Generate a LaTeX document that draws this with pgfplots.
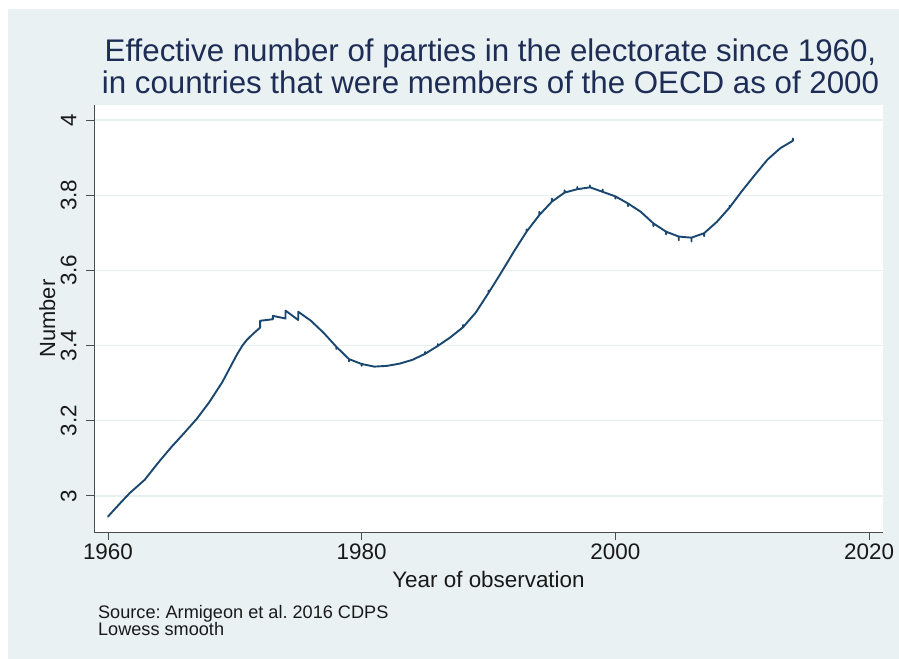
\documentclass[border=0pt]{standalone}
\usepackage{fontspec}
\setmainfont{Liberation Sans}
\usepackage{pgfplots}
\pgfplotsset{compat=1.18}
\definecolor{bgblue}{RGB}{233,241,243}
\definecolor{gridc}{RGB}{231,239,241}
\definecolor{navyline}{RGB}{26,71,111}
\definecolor{titlec}{RGB}{30,45,85}
\frenchspacing
\begin{document}
\begin{tikzpicture}
\fill[white] (0bp,0bp) rectangle (899bp,-659bp);
\fill[bgblue] (8bp,-9bp) rectangle (899bp,-659bp);
\useasboundingbox (0bp,0bp) rectangle (899bp,-659bp);
\begin{axis}[
  scale only axis,
  width=789bp, height=427bp,
  at={(94bp,-532bp)}, anchor=south west,
  xmin=1958.9, xmax=2021.1,
  ymin=2.904, ymax=4.04,
  axis background/.style={fill=white},
  axis x line*=bottom, axis y line*=left,
  axis line style={black!70, line width=0.9bp},
  xtick={1960,1980,2000,2020},
  ytick={3,3.2,3.4,3.6,3.8,4},
  yticklabels={3,3.2,3.4,3.6,3.8,4},
  xticklabels={1960,1980,2000,2020},
  tick align=outside,
  major tick length=8bp,
  tick style={black!70, line width=0.9bp},
  ymajorgrids,
  grid style={gridc, line width=1.3bp},
  ticklabel style={font=\fontsize{22.5}{22.5}\selectfont, text=black!90},
  yticklabel style={rotate=90, anchor=south},
  yticklabel shift=6bp,
  xticklabel style={anchor=north},
  xlabel={Year of observation},
  xlabel style={at={(axis description cs:0.5,-0.1311)}, anchor=base, font=\fontsize{22.5}{22.5}\selectfont, text=black!90},
  ylabel={Number},
  ylabel style={at={(axis description cs:-0.0494,0.5)}, anchor=base, font=\fontsize{22}{22}\selectfont, text=black!90},
  title={Effective number of parties in the electorate since 1960,\\in countries that were members of the OECD as of 2000},
  title style={at={(axis description cs:0.5,1.0)}, anchor=south, align=center, font=\fontsize{31.4}{32}\selectfont, text=titlec, yshift=2bp, xshift=2bp},
  clip=false,
]
\addplot[navyline, line width=1.9bp, line join=round, line cap=round] coordinates {
(1960.0,2.945)
(1961.0,2.982)
(1961.7,3.007)
(1962.9,3.043)
(1964.0,3.090)
(1965.0,3.130)
(1966.0,3.167)
(1967.0,3.205)
(1968.0,3.250)
(1969.0,3.302)
(1969.6,3.340)
(1970.2,3.378)
(1970.6,3.400)
(1971.0,3.417)
(1971.5,3.433)
(1972.0,3.448)(1972.0,3.466)
(1973.0,3.470)(1973.0,3.479)
(1974.0,3.472)(1974.0,3.493)
(1975.0,3.468)(1975.0,3.490)
(1976.0,3.466)
(1977.0,3.434)
(1978.0,3.397)(1978,3.391)(1978,3.397)
(1979.0,3.364)(1979,3.358)(1979,3.364)
(1980.0,3.351)(1980,3.346)(1980,3.351)
(1981.0,3.344)
(1982.0,3.346)
(1983.0,3.352)
(1984.0,3.362)
(1985.0,3.378)(1985,3.383)(1985,3.378)
(1986.0,3.399)(1986,3.404)(1986,3.399)
(1987.0,3.422)
(1988.0,3.449)(1988,3.455)(1988,3.449)
(1989.0,3.488)
(1990.0,3.540)(1990,3.546)(1990,3.540)
(1991.0,3.594)
(1992.0,3.650)
(1993.0,3.703)(1993,3.709)(1993,3.703)
(1994.0,3.747)(1994,3.756)(1994,3.747)
(1995.0,3.783)(1995,3.791)(1995,3.783)
(1996.0,3.807)(1996,3.813)(1996,3.807)
(1997.0,3.816)(1997,3.822)(1997,3.816)
(1998.0,3.821)(1998,3.826)(1998,3.821)
(1999.0,3.809)(1999,3.815)(1999,3.809)
(2000.0,3.797)(2000,3.791)(2000,3.797)
(2001.0,3.778)(2001,3.771)(2001,3.778)
(2002.0,3.756)
(2003.0,3.725)(2003,3.718)(2003,3.725)
(2004.0,3.703)(2004,3.696)(2004,3.703)
(2005.0,3.690)(2005,3.680)(2005,3.690)
(2006.0,3.687)(2006,3.677)(2006,3.687)
(2007.0,3.699)(2007,3.691)(2007,3.699)
(2008.0,3.729)
(2009.0,3.767)(2009,3.772)(2009,3.767)
(2010.0,3.812)
(2011.0,3.854)
(2012.0,3.895)
(2013.0,3.925)
(2014.0,3.945)(2014,3.951)
};
\node[anchor=north west, align=left, inner sep=0pt, font=\fontsize{18.2}{17.6}\selectfont, text=black!90]
  at (axis description cs:0.005,-0.1710) {Source: Armigeon et al. 2016 CDPS\\Lowess smooth};
\end{axis}
\end{tikzpicture}
\end{document}
